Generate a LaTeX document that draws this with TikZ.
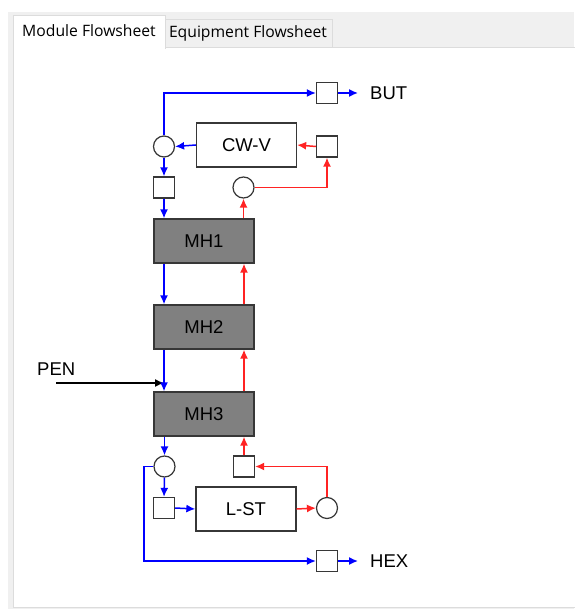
\documentclass[tikz,border=0pt]{standalone}
\usepackage{fontspec}
\setmainfont{Liberation Sans}
\newfontfamily\tabfont{Open Sans}
\usepackage{xcolor}
\usetikzlibrary{arrows.meta, positioning}

\definecolor{flowblue}{RGB}{0,0,255}
\definecolor{flowred}{RGB}{255,35,35}
\definecolor{tabgray}{RGB}{240,240,240}
\definecolor{edgegray}{RGB}{220,220,220}
\definecolor{framegray}{RGB}{55,55,55}

\tikzset{
  unitbox/.style={draw=framegray, line width=1.3pt, minimum width=100, minimum height=44,
    inner sep=0, font=\fontsize{18.5}{20}\selectfont},
  heater/.style={unitbox, fill=gray},
  port/.style={draw=framegray, line width=1.2pt, minimum size=21, inner sep=0},
  mixer/.style={port, circle},
  streamlabel/.style={anchor=west, inner sep=0, font=\fontsize{18.5}{20}\selectfont},
  liq/.style={flowblue, line width=1.5pt, -{Latex[length=9pt,width=8pt]}},
  vap/.style={flowred, line width=1.5pt, -{Latex[length=9pt,width=8pt]}},
  feed/.style={black, line width=1.5pt, -{Latex[length=9pt,width=8pt]}},
  tabtext/.style={inner sep=0, font=\tabfont\fontsize{15.7}{17}\selectfont}
}

\begin{document}
\begin{tikzpicture}[x=1pt, y=-1pt]
\useasboundingbox (0,0) rectangle (574,609);

% Window and tabs
\fill[tabgray] (8,12) rectangle (574,609);
\draw[edgegray, fill=white] (13,47) rectangle (575,607);
\fill[white] (16,49) rectangle (574,605);
\draw[edgegray, fill=tabgray] (165,19) rectangle (332,47);
\draw[edgegray, fill=white] (13,49) -- (13,15) -- (165,15) -- (165,49);
\node[tabtext] (tabmod) at (89,31) {Module Flowsheet};
\node[tabtext] (tabeq) at (248,33) {Equipment Flowsheet};

% Column sections
\node[heater] (mh1) at (204,241) {MH1};
\node[heater] (mh2) at (204,327) {MH2};
\node[heater] (mh3) at (204,414) {MH3};

% Condenser
\node[unitbox] (cwv) at (246.5,145) {CW-V};
\node[mixer] (ctop) at (164,146.5) {};
\node[port] (reflux) at (164,187.5) {};
\node[mixer] (vtop) at (243.5,187.5) {};
\node[port] (vin) at (327,146.5) {};
\node[port] (butp) at (327,93) {};
\coordinate (butout) at (358,93);
\node[streamlabel] (butlbl) at (370,93) {BUT};

% Reboiler
\node[unitbox] (lst) at (246,509) {L-ST};
\node[mixer] (cbot) at (164.5,466.5) {};
\node[port] (vret) at (244,466.5) {};
\node[port] (lin) at (164,508) {};
\node[mixer] (rboil) at (327,508) {};
\node[port] (hexp) at (327,561) {};
\coordinate (hexout) at (358,561);
\coordinate (hexbend) at (144,466.5);
\node[streamlabel] (hexlbl) at (370,561) {HEX};

% Feed
\coordinate (penin) at (56,383);
\node[streamlabel] (penlbl) at (37,369) {PEN};
\draw[feed] (penin) -- (penin -| lin);

% Liquid down
\draw[liq] (ctop.north) |- (butp.west);
\draw[liq] (butp.east) -- (butout);
\draw[liq] (cwv.west) -- (ctop.east);
\draw[liq] (ctop.south) -- (reflux.north);
\draw[liq] (reflux.south) -- (reflux.south |- mh1.north);
\draw[liq] (mh1.south -| reflux) -- (mh2.north -| reflux);
\draw[liq] (mh2.south -| reflux) -- (mh3.north -| reflux);
\draw[liq] (mh3.south -| cbot) -- (cbot.north);
\draw[liq] (cbot.south) -- (lin.north);
\draw[liq] (lin.east) -- (lst.west);
\draw[liq] (cbot.west) -- (hexbend) |- (hexp.west);
\draw[liq] (hexp.east) -- (hexout);

% Vapour up
\draw[vap] (lst.east) -- (rboil.west);
\draw[vap] (rboil.north) |- (vret.east);
\draw[vap] (vret.north) -- (vret.north |- mh3.south);
\draw[vap] (mh3.north -| vret) -- (mh2.south -| vret);
\draw[vap] (mh2.north -| vret) -- (mh1.south -| vret);
\draw[vap] (mh1.north -| vtop) -- (vtop.south);
\draw[vap] (vtop.east) -| (vin.south);
\draw[vap] (vin.west) -- (cwv.east);
\end{tikzpicture}
\end{document}
